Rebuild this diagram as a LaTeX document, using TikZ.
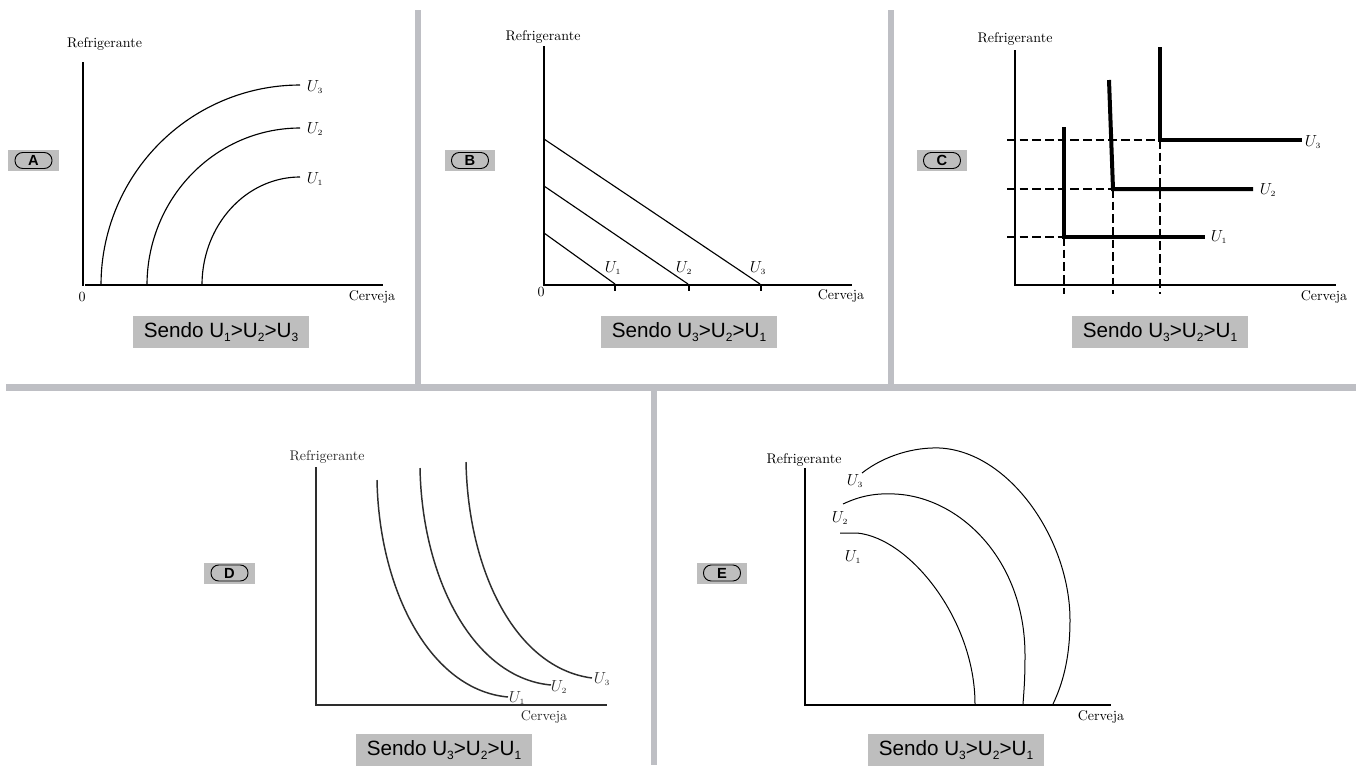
\documentclass[tikz,border=0pt]{standalone}
\usepackage{fontspec}
\newfontfamily\arialf{Liberation Sans}
\definecolor{band}{RGB}{190,191,196}
\definecolor{boxgray}{RGB}{190,190,190}
\definecolor{dgray}{RGB}{45,45,45}
\newcommand{\sbx}[1]{\raisebox{-0.35ex}{\fontsize{9}{9}\selectfont #1}}
\tikzset{
  axis/.style={line width=1pt},
  curve/.style={line width=0.85pt},
  lbl/.style={font=\fontsize{10.5}{12}\selectfont, inner sep=0pt},
  ulbl/.style={font=\fontsize{11.5}{13}\selectfont, inner sep=0pt},
  sendo/.style={fill=boxgray, minimum width=132pt, minimum height=24pt, inner sep=0pt,
    font=\arialf\fontsize{15.5}{18}\selectfont},
  badgebg/.style={fill=boxgray, minimum width=38pt, minimum height=15.75pt, inner sep=0pt},
  pill/.style={draw, line width=0.7pt, rounded corners=5.8pt, minimum width=27.75pt,
    minimum height=12pt, inner sep=0pt, font=\arialf\bfseries\fontsize{11}{12}\selectfont},
  leontief/.style={line width=3pt, line join=miter},
  dsh/.style={line width=1.4pt, dash pattern=on 6.5pt off 3pt},
}
\newcommand{\badge}[3]{%
  \node[badgebg] (#1bg) at (#2) {};
  \node[pill] (#1) at (#2) {#3};}
\begin{document}
\begin{tikzpicture}[x=0.75pt,y=-0.75pt]
\useasboundingbox (0,0) rectangle (1356,765);
\fill[white] (0,0) rectangle (1356,765);
% separators
\fill[band] (6,384) rectangle (1356,391);
\fill[band] (415,10) rectangle (421,384);
\fill[band] (888,10) rectangle (894,384);
\fill[band] (651,391) rectangle (657,765);

% ================= Panel A
\badge{bA}{33.5,160.5}{A}
\coordinate (Ay) at (83,62);
\coordinate (Ao) at (83,286);
\coordinate (Ax0) at (85,285);
\coordinate (Ax) at (383,285);
\draw[axis] (Ay) -- (Ao);
\draw[axis] (Ax0) -- (Ax);
\draw[curve] plot[domain=180:270,samples=60] ({300+199*cos(\x)},{285+200*sin(\x)});
\draw[curve] plot[domain=180:270,samples=60] ({300+153*cos(\x)},{285+157*sin(\x)});
\draw[curve] plot[domain=180:270,samples=60] ({300+98*cos(\x)},{285+108*sin(\x)});
\node[lbl] (Aref) at (104.5,44) {Refrigerante};
\node[lbl] (A0) at (82,297) {0};
\node[lbl] (Acer) at (372,297) {Cerveja};
\node[ulbl] (AU3) at (315,87) {$U_{\scriptscriptstyle 3}$};
\node[ulbl] (AU2) at (315,129) {$U_{\scriptscriptstyle 2}$};
\node[ulbl] (AU1) at (315,179) {$U_{\scriptscriptstyle 1}$};
\node[sendo] (As) at (221,332) {Sendo U\sbx{1}>U\sbx{2}>U\sbx{3}};

% ================= Panel B
\badge{bB}{470,160.5}{B}
\coordinate (By) at (544,46);
\coordinate (Bo) at (544,285);
\coordinate (Bx) at (852,285);
\draw[axis] (By) -- (Bo) -- (Bx);
\draw[axis] (615,285) -- (615,291);
\draw[axis] (689,285) -- (689,291);
\draw[axis] (761,285) -- (761,291);
\draw[curve] (544,139) -- (760,284);
\draw[curve] (544,186) -- (688,284);
\draw[curve] (544,233) -- (615,284);
\node[lbl] (Bref) at (543,37) {Refrigerante};
\node[lbl] (B0) at (541,292) {0};
\node[lbl] (Bcer) at (841,296) {Cerveja};
\node[ulbl] (BU1) at (613,268) {$U_{\scriptscriptstyle 1}$};
\node[ulbl] (BU2) at (684,268) {$U_{\scriptscriptstyle 2}$};
\node[ulbl] (BU3) at (758,268) {$U_{\scriptscriptstyle 3}$};
\node[sendo] (Bs) at (689,332) {Sendo U\sbx{3}>U\sbx{2}>U\sbx{1}};

% ================= Panel C
\badge{bC}{942,160.5}{C}
\coordinate (Cy) at (1015,50);
\coordinate (Co) at (1015,285);
\coordinate (Cx) at (1336,285);
\draw[axis] (Cy) -- (Co) -- (Cx);
\draw[dsh] (1007,140) -- (1160,140);
\draw[dsh] (1007,189) -- (1114,189);
\draw[dsh] (1007,237) -- (1064,237);
\draw[dsh] (1064,237) -- (1064,294);
\draw[dsh] (1113,189) -- (1113,294);
\draw[dsh] (1160,140) -- (1160,294);
\draw[leontief] (1064,127) -- (1064,237) -- (1205,237);
\draw[leontief] (1109,80) -- (1113,189) -- (1253,189);
\draw[leontief] (1160,47) -- (1160,140) -- (1302,140);
\node[lbl] (Cref) at (1015,39) {Refrigerante};
\node[lbl] (Ccer) at (1324,297) {Cerveja};
\node[ulbl] (CU3) at (1313,142) {$U_{\scriptscriptstyle 3}$};
\node[ulbl] (CU2) at (1268,190) {$U_{\scriptscriptstyle 2}$};
\node[ulbl] (CU1) at (1219,237) {$U_{\scriptscriptstyle 1}$};
\node[sendo] (Cs) at (1160,332) {Sendo U\sbx{3}>U\sbx{2}>U\sbx{1}};

% ================= Panel D
\badge{bD}{229.5,573}{D}
\coordinate (Dy) at (316,467);
\coordinate (Do) at (316,705);
\coordinate (Dx) at (607,705);
\draw[axis, dgray, line width=1.4pt] (Dy) -- (Do) -- (Dx);
\draw[curve, dgray, line width=1.1pt] (377,480) .. controls (379,590) and (430,690) .. (508,697);
\draw[curve, dgray, line width=1.1pt] (420,468) .. controls (422,578) and (473,678) .. (551,685);
\draw[curve, dgray, line width=1.1pt] (466,462) .. controls (468,570) and (515,668) .. (592,678);
\node[lbl, text=dgray] (Dref) at (327,457) {Refrigerante};
\node[lbl, text=dgray] (Dcer) at (544,717) {Cerveja};
\node[ulbl, text=dgray] (DU1) at (517,698) {$U_{\scriptscriptstyle 1}$};
\node[ulbl, text=dgray] (DU2) at (559,687) {$U_{\scriptscriptstyle 2}$};
\node[ulbl, text=dgray] (DU3) at (602,679) {$U_{\scriptscriptstyle 3}$};
\node[sendo] (Ds) at (444,750) {Sendo U\sbx{3}>U\sbx{2}>U\sbx{1}};

% ================= Panel E
\badge{bE}{722,573}{E}
\coordinate (Ey) at (805,468);
\coordinate (Eo) at (805,705);
\coordinate (Ex) at (1111,705);
\draw[axis] (Ey) -- (Eo) -- (Ex);
\draw[curve, line width=0.75pt] (840,533) -- (857,533)
  .. controls (910,538) and (975,620) .. (975,704);
\draw[curve, line width=0.75pt] (843,504) .. controls (860,496) and (875,493) .. (895,494)
  .. controls (960,497) and (1025,560) .. (1025,655)
  .. controls (1025,680) and (1024,690) .. (1023,704);
\draw[curve, line width=0.75pt] (862,473) .. controls (885,455) and (915,447) .. (940,448)
  .. controls (1010,452) and (1070,540) .. (1070,620)
  .. controls (1070,660) and (1062,685) .. (1053,704);
\node[lbl] (Eref) at (804,460) {Refrigerante};
\node[lbl] (Ecer) at (1101,717) {Cerveja};
\node[ulbl] (EU3) at (855,481) {$U_{\scriptscriptstyle 3}$};
\node[ulbl] (EU2) at (840,518) {$U_{\scriptscriptstyle 2}$};
\node[ulbl] (EU1) at (853,557) {$U_{\scriptscriptstyle 1}$};
\node[sendo] (Es) at (956,750) {Sendo U\sbx{3}>U\sbx{2}>U\sbx{1}};
\end{tikzpicture}
\end{document}
